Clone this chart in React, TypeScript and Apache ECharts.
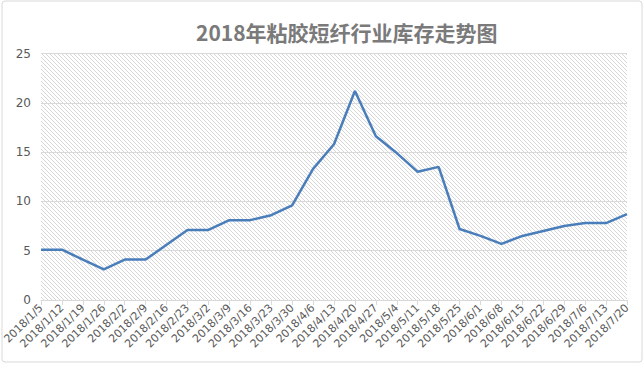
import React, { useEffect, useRef } from "react";
import * as echarts from "echarts";

const categories = [
  "2018/1/5", "2018/1/12", "2018/1/19", "2018/1/26", "2018/2/2", "2018/2/9",
  "2018/2/16", "2018/2/23", "2018/3/2", "2018/3/9", "2018/3/16", "2018/3/23",
  "2018/3/30", "2018/4/6", "2018/4/13", "2018/4/20", "2018/4/27", "2018/5/4",
  "2018/5/11", "2018/5/18", "2018/5/25", "2018/6/1", "2018/6/8", "2018/6/15",
  "2018/6/22", "2018/6/29", "2018/7/6", "2018/7/13", "2018/7/20",
];
const inventory = [
  5.1, 5.1, 4.1, 3.1, 4.1, 4.1, 5.6, 7.1, 7.1, 8.1, 8.1, 8.6, 9.6, 13.3,
  15.8, 21.2, 16.6, 14.9, 13.0, 13.5, 7.2, 6.5, 5.7, 6.5, 7.0, 7.5, 7.8, 7.8, 8.7,
];
const titleText = "2018年粘胶短纤行业库存走势图";

function makeHatch(): HTMLCanvasElement {
  const c = document.createElement("canvas");
  c.width = 4;
  c.height = 4;
  const ctx = c.getContext("2d")!;
  ctx.fillStyle = "#ffffff";
  ctx.fillRect(0, 0, 4, 4);
  ctx.fillStyle = "#d6d6d6";
  for (let i = 0; i < 4; i++) ctx.fillRect(i, i, 1, 1);
  return c;
}

export default function App() {
  const ref = useRef<HTMLDivElement>(null);
  useEffect(() => {
    document.body.style.margin = "0";
    const chart = echarts.init(ref.current!, undefined, { renderer: "svg" });
    const hatch = makeHatch();
    chart.setOption({
      animation: false,
      backgroundColor: "#ffffff",
      title: {
        text: titleText,
        left: 191,
        top: 16,
        textStyle: {
          fontSize: 21,
          fontWeight: "bold",
          color: "#7a7a7a",
          fontFamily: "Noto Sans CJK SC",
        },
      },
      grid: {
        left: 41,
        right: 17,
        top: 53.5,
        bottom: 68,
        show: true,
        borderWidth: 0,
        backgroundColor: { image: hatch, repeat: "repeat" },
      },
      xAxis: {
        type: "category",
        data: categories,
        boundaryGap: false,
        axisLine: { lineStyle: { color: "#d9d9d9", width: 1 } },
        axisTick: { show: true, length: 5, lineStyle: { color: "#d9d9d9" }, interval: 0 },
        axisLabel: {
          interval: 0,
          rotate: 45,
          color: "#595959",
          fontSize: 11,
          fontFamily: "DejaVu Sans",
          margin: 6,
        },
      },
      yAxis: {
        type: "value",
        min: 0,
        max: 25,
        interval: 5,
        axisLine: { show: false },
        axisTick: { show: false },
        splitLine: { lineStyle: { color: "#d9d9d9", width: 1 } },
        axisLabel: {
          color: "#595959",
          fontSize: 12,
          fontFamily: "DejaVu Sans",
          margin: 10,
        },
      },
      graphic: [
        {
          type: "rect",
          shape: { x: 2, y: 1, width: 640, height: 361, r: 3 },
          style: { fill: "none", stroke: "#d9d9d9", lineWidth: 1 },
          silent: true,
        },
      ],
      series: [
        {
          type: "line",
          data: inventory,
          symbol: "none",
          lineStyle: { color: "#4a7ebb", width: 2.5 },
        },
      ],
    });
    return () => chart.dispose();
  }, []);
  return <div ref={ref} style={{ width: 644, height: 368 }} />;
}
